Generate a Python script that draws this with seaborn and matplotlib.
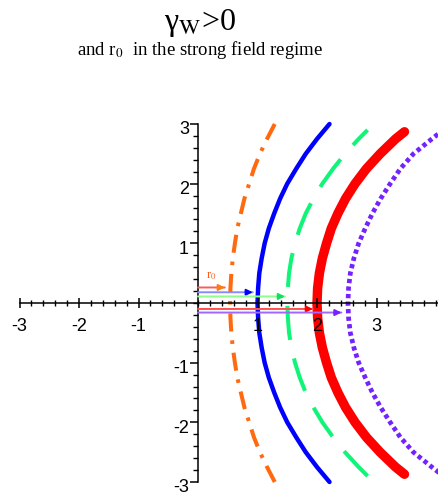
import matplotlib
matplotlib.use("Agg")
import matplotlib.pyplot as plt
import matplotlib.transforms as mtransforms
from matplotlib.ticker import FixedLocator
import numpy as np
import pandas as pd
import seaborn as sns

# Upper half of each orbit: heights y and the x position reached at each
# height.  The lower half is the mirror image about the x-axis.
y_full = [0.0, 0.25, 0.5, 0.75, 1.0, 1.25, 1.5, 1.75, 2.0, 2.25, 2.5, 2.75, 3.0]
y_green = [0.0, 0.25, 0.5, 0.75, 1.0, 1.25, 1.5, 1.75, 2.0, 2.25, 2.5, 2.75, 2.9]
y_red = [0.0, 0.25, 0.5, 0.75, 1.0, 1.25, 1.5, 1.75, 2.0, 2.25, 2.5, 2.75, 2.87]

x_orange = [0.54, 0.545, 0.56, 0.585, 0.62, 0.66, 0.72, 0.78, 0.86, 0.94, 1.04, 1.16, 1.29]
x_blue = [1.00, 1.01, 1.03, 1.07, 1.12, 1.19, 1.28, 1.38, 1.50, 1.65, 1.81, 2.00, 2.21]
x_green = [1.50, 1.51, 1.53, 1.57, 1.63, 1.71, 1.81, 1.94, 2.09, 2.27, 2.47, 2.70, 2.85]
x_red = [2.00, 2.01, 2.04, 2.09, 2.16, 2.24, 2.35, 2.48, 2.64, 2.83, 3.06, 3.32, 3.47]
x_purple = [2.52, 2.53, 2.56, 2.62, 2.70, 2.81, 2.93, 3.07, 3.23, 3.40, 3.62, 3.93, 4.25]

orbit_names = ["orange", "blue", "green", "red", "purple"]

# Starting radius r0 marked by an arrow for each orbit
r0_values = [0.45, 0.92, 1.46, 1.93, 2.41]

x_tick_values = [-3, -2, -1, 1, 2, 3]
x_tick_labels = ["-3", "-2", "-1", "1", "2", "3"]
y_tick_values = [-3, -2, -1, 1, 2, 3]
y_tick_labels = ["-3", "-2", "-1", "1", "2", "3"]

title_text = r"γ$_{\mathrm{W}}$>0"
subtitle_text = r"and r$_0$  in the strong field regime"
r0_label = r"r$_0$"


def full_orbit(xs, ys, name):
    """Join the mirrored lower half to the upper half of an orbit."""
    xx = xs[::-1] + xs[1:]
    yy = [-v for v in ys[::-1]] + ys[1:]
    return pd.DataFrame({"x": xx, "y": yy, "orbit": name, "step": range(len(xx))})


orbits = pd.concat([
    full_orbit(x_orange, y_full, "orange"),
    full_orbit(x_blue, y_full, "blue"),
    full_orbit(x_green, y_green, "green"),
    full_orbit(x_red, y_red, "red"),
    full_orbit(x_purple, y_full, "purple"),
], ignore_index=True)

sns.set_theme(style="white")
plt.rcParams["font.family"] = ["Liberation Sans", "DejaVu Sans"]
plt.rcParams["mathtext.fontset"] = "stix"
plt.rcParams["axes.unicode_minus"] = False

W, H, DPI = 439, 499, 100
fig = plt.figure(figsize=(W / DPI, H / DPI), dpi=DPI)
fig.patch.set_facecolor("white")
ax = fig.add_axes([19.5 / W, 17 / H, 419.5 / W, 358 / H])
ax.set_facecolor("white")

line_styles = {
    "orange": dict(color="#ff6a10", lw=2.9, linestyle=(0, (4.5, 2.2, 0.9, 2.2))),
    "blue": dict(color="#0000ff", lw=3.2, linestyle="-"),
    "green": dict(color="#10f578", lw=2.9, linestyle=(0, (8.5, 4.7))),
    "red": dict(color="#ff0000", lw=6.8, linestyle="-"),
    "purple": dict(color="#7422ff", lw=3.4, linestyle=(0, (0.9, 0.7))),
}

for name in orbit_names:
    sub = orbits[orbits["orbit"] == name]
    sns.lineplot(data=sub, x="x", y="y", sort=False, estimator=None,
                 ax=ax, legend=False, clip_on=False, zorder=1,
                 solid_capstyle="round", dash_capstyle="butt",
                 **line_styles[name])

# Arrows from the y-axis to each starting radius
arrow_style = {
    "orange": dict(shaft="#ff5a5a", head="#ff7a10", y=0.26),
    "blue": dict(shaft="#8a8aff", head="#0000ff", y=0.18),
    "green": dict(shaft="#8cff8c", head="#10e060", y=0.11),
    "red": dict(shaft="#ff5050", head="#ff0000", y=-0.10),
    "purple": dict(shaft="#a066ff", head="#7422ff", y=-0.16),
}
for name, r0 in zip(orbit_names, r0_values):
    st = arrow_style[name]
    ax.annotate("", xy=(r0, st["y"]), xytext=(0.0, st["y"]),
                arrowprops=dict(arrowstyle="-", color=st["shaft"], lw=1.4,
                                shrinkA=0, shrinkB=0))
    ax.annotate("", xy=(r0, st["y"]), xytext=(r0 - 0.12, st["y"]),
                arrowprops=dict(arrowstyle="-|>", color=st["head"], lw=1.4,
                                mutation_scale=9, shrinkA=0, shrinkB=0))

ax.text(0.22, 0.46, r0_label, color="#ff5a1a", fontsize=9,
        family="Liberation Serif", ha="center", va="center")

# Axes crossing at the origin, drawn above the curves
ax.set_axisbelow(False)
ax.set_xlim(-3, 4.05)
ax.set_ylim(-3, 3)
for side in ("top", "right"):
    ax.spines[side].set_visible(False)
ax.spines["left"].set_position(("data", 0))
ax.spines["bottom"].set_position(("data", 0))
ax.spines["left"].set_bounds(-3, 3)
for side in ("left", "bottom"):
    ax.spines[side].set_color("black")
    ax.spines[side].set_linewidth(1.1)
ax.set_xlabel("")
ax.set_ylabel("")

ax.xaxis.set_major_locator(FixedLocator(x_tick_values))
ax.xaxis.set_minor_locator(FixedLocator(np.round(np.arange(-3, 4.01, 0.2), 2)))
ax.yaxis.set_major_locator(FixedLocator(y_tick_values))
ax.yaxis.set_minor_locator(FixedLocator(np.round(np.arange(-3, 3.01, 0.2), 2)))
ax.set_xticklabels(x_tick_labels)
ax.set_yticklabels(y_tick_labels)

ax.tick_params(axis="x", which="both", bottom=True, top=False)
ax.tick_params(axis="y", which="both", left=True, right=False)
ax.tick_params(axis="x", which="major", direction="inout", length=7, width=1.1,
               color="black", labelsize=13, labelcolor="black", pad=7)
ax.tick_params(axis="x", which="minor", direction="inout", length=4, width=1.0,
               color="black")
ax.tick_params(axis="y", which="major", direction="out", length=5.5, width=1.1,
               color="black", labelsize=13, labelcolor="black", pad=1)
ax.tick_params(axis="y", which="minor", direction="out", length=3.5, width=1.0,
               color="black")

shift = mtransforms.ScaledTranslation(0, -4 / DPI, fig.dpi_scale_trans)
for lab in ax.get_yticklabels():
    lab.set_transform(lab.get_transform() + shift)

fig.text(200 / W, 1 - 23 / H, title_text, fontsize=23, family="Liberation Serif",
         ha="center", va="center", color="black")
fig.text(200 / W, 1 - 50 / H, subtitle_text, fontsize=13.5, family="Liberation Serif",
         ha="center", va="center", color="black")

fig.savefig("out.png", dpi=DPI, facecolor="white")
